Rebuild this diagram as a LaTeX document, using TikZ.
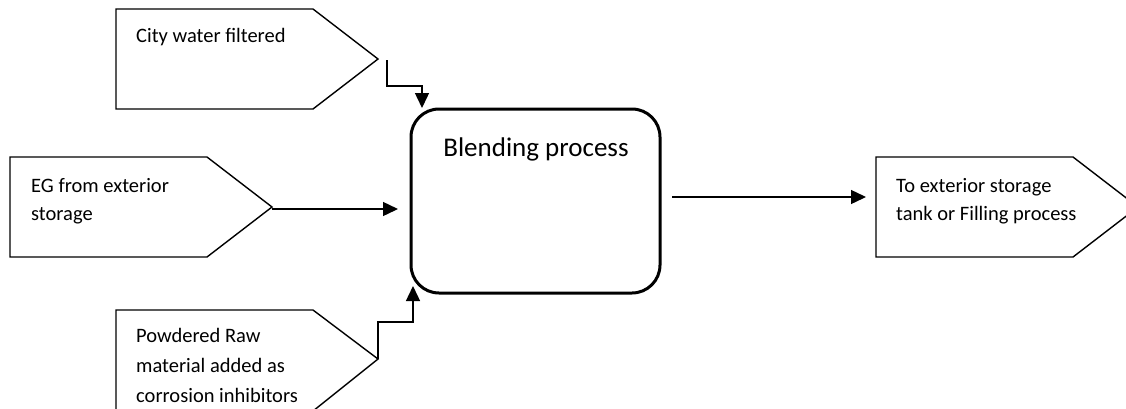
\documentclass[tikz,border=0pt]{standalone}
\usepackage{fontspec}
\setmainfont{Carlito}
\usetikzlibrary{arrows.meta}
\tikzset{
  flow/.style={draw=black, line width=1.4pt, line join=miter},
  lbl/.style={anchor=base west, inner sep=0pt, align=left,
    font=\fontsize{20.5pt}{28pt}\selectfont},
  proc/.style={draw=black, line width=3pt, rounded corners=28pt},
  conn/.style={draw=black, line width=1.4pt,
    -{Triangle[length=15pt,width=14pt]}},
}
\begin{document}
\begin{tikzpicture}[x=1pt,y=-1pt]
\useasboundingbox (0,0) rectangle (1126,408);

% input / output pentagons
\draw[flow] (116,9) -- (313,9) -- (378,59) -- (313,109) -- (116,109) -- cycle;
\coordinate (cwTip) at (387,60);
\draw[flow] (10,157) -- (207,157) -- (272,207) -- (207,257) -- (10,257) -- cycle;
\coordinate (egTip) at (272,209);
\draw[flow] (116,310) -- (313,310) -- (378,359) -- (313,411) -- (116,411) -- cycle;
\coordinate (pwTip) at (378,359);
\draw[flow] (876,157) -- (1073,157) -- (1138,207) -- (1073,257) -- (876,257) -- cycle;

% labels
\node[lbl] (cw) at (136,42) {City water filtered};
\node[lbl] (eg) at (31,192) {EG from exterior};
\node[lbl] (eg2) at (31,220) {storage};
\node[lbl] (pw) at (136,342) {Powdered Raw};
\node[lbl] (pw2) at (136,372) {material added as};
\node[lbl] (pw3) at (136,402) {corrosion inhibitors};
\node[lbl] (out) at (896,192) {To exterior storage};
\node[lbl] (out2) at (896,220) {tank or Filling process};

% process box
\path[proc] (411,109) rectangle (660,293);
\coordinate (blTop) at (422,108);
\coordinate (blLeft) at (398,209);
\coordinate (blBot) at (413,286);
\coordinate (blRight) at (672,197);
\node[anchor=base, inner sep=0pt, font=\fontsize{27pt}{30pt}\selectfont] (bl) at (536,156) {Blending process};

\coordinate (outIn) at (866,197);

% connectors
\draw[conn] (cwTip) -- (387,86) -- (422,86) -- (blTop);
\draw[conn] (egTip) -- (blLeft);
\draw[conn] (pwTip) -- (378,322) -- (413,322) -- (blBot);
\draw[conn] (blRight) -- (outIn);
\end{tikzpicture}
\end{document}
